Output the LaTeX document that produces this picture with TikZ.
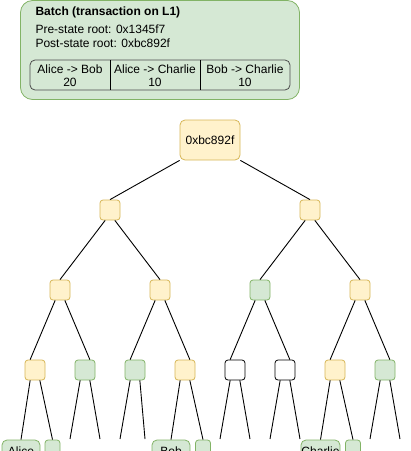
\documentclass[tikz,border=0pt]{standalone}
\usepackage{fontspec}
\setmainfont{Liberation Sans}
\definecolor{yfill}{HTML}{FFF2CC}
\definecolor{ystroke}{HTML}{D6B656}
\definecolor{gfill}{HTML}{D5E8D4}
\definecolor{gstroke}{HTML}{82B366}
\begin{document}
\begin{tikzpicture}[x=1pt,y=-1pt,
  every node/.style={font=\fontsize{12}{13.5}\selectfont},
  yel/.style={draw=ystroke, fill=yfill, rounded corners=3pt, minimum width=20pt, minimum height=20pt, inner sep=0pt, line width=0.8pt},
  grn/.style={yel, draw=gstroke, fill=gfill},
  wht/.style={yel, draw=black, fill=white},
  leafbox/.style={grn, rounded corners=5pt, minimum width=38pt, minimum height=22pt},
  leafsq/.style={grn, minimum width=15pt, minimum height=22pt},
  link/.style={draw=black, line width=0.9pt}]
\clip (0,0) rectangle (411,451);
% batch box
\node[draw=gstroke, fill=gfill, rounded corners=12pt, line width=0.8pt, minimum width=279pt, minimum height=99pt, inner sep=0pt] (batch) at (160,50) {};
\node[anchor=west, font=\fontsize{12}{13.5}\selectfont\bfseries] (title) at (32,12) {Batch (transaction on L1)};
\node[anchor=west] (pre) at (32,29) {Pre-state root: 0x1345f7};
\node[anchor=west] (post) at (32,43) {Post-state root: 0xbc892f};
\node[draw=black!70, rounded corners=5pt, line width=0.8pt, minimum width=260pt, minimum height=30pt, inner sep=0pt] (table) at (160,75) {};
\coordinate (d1t) at (110,60); \coordinate (d1b) at (110,90);
\coordinate (d2t) at (200,60); \coordinate (d2b) at (200,90);
\draw[line width=0.8pt] (d1t) -- (d1b);
\draw[line width=0.8pt] (d2t) -- (d2b);
\node[align=center, inner sep=0pt] (c1) at (70,75.5) {Alice -> Bob\\20};
\node[align=center, inner sep=0pt] (c2) at (155,75.5) {Alice -> Charlie\\10};
\node[align=center, inner sep=0pt] (c3) at (245,75.5) {Bob -> Charlie\\10};
% tree
\node[yel, minimum width=60pt, minimum height=40pt, rounded corners=5pt] (root) at (210,140) {0xbc892f};
\node[yel] (a) at (110,210) {};
\node[yel] (b) at (310,210) {};
\node[yel] (aa) at (60,290) {};
\node[yel] (ab) at (160,290) {};
\node[grn] (ba) at (260,290) {};
\node[yel] (bb) at (360,290) {};
\node[yel] (l1) at (35,370) {};
\node[grn] (l2) at (85,370) {};
\node[grn] (l3) at (135,370) {};
\node[yel] (l4) at (185,370) {};
\node[wht] (l5) at (235,370) {};
\node[wht] (l6) at (285,370) {};
\node[yel] (l7) at (335,370) {};
\node[grn] (l8) at (385,370) {};
\node[leafbox] (alice) at (21,451) {Alice};
\node[leafsq] (sa) at (52.5,451) {};
\node[leafbox] (bob) at (171,451) {Bob};
\node[leafsq] (sb) at (203,451) {};
\node[leafbox, minimum width=39pt] (charlie) at (320.5,451) {Charlie};
\node[leafsq] (sc) at (353,451) {};
\coordinate (e2a) at (70,439); \coordinate (e2b) at (100,439);
\coordinate (e3a) at (120,439); \coordinate (e3b) at (145,439);
\coordinate (e5a) at (220,439); \coordinate (e5b) at (250,439);
\coordinate (e6a) at (270,439); \coordinate (e6b) at (300,439);
\coordinate (e8a) at (370,439); \coordinate (e8b) at (400,439);
% edges
\draw[link] (root.south west) -- (a.north);
\draw[link] (root.south east) -- (b.north);
\draw[link] (a.-115) -- (aa.north);
\draw[link] (a.-65) -- (ab.north);
\draw[link] (b.-115) -- (ba.north);
\draw[link] (b.-65) -- (bb.north);
\draw[link] (aa.-115) -- (l1.115);
\draw[link] (aa.-65) -- (l2.65);
\draw[link] (ab.-115) -- (l3.115);
\draw[link] (ab.-65) -- (l4.65);
\draw[link] (ba.-115) -- (l5.115);
\draw[link] (ba.-65) -- (l6.65);
\draw[link] (bb.-115) -- (l7.115);
\draw[link] (bb.-65) -- (l8.65);
\draw[link] (l1.-115) -- (alice.north);
\draw[link] (l1.-65) -- (sa.north);
\draw[link] (l2.-115) -- (e2a);
\draw[link] (l2.-65) -- (e2b);
\draw[link] (l3.-115) -- (e3a);
\draw[link] (l3.-65) -- (e3b);
\draw[link] (l4.-115) -- (bob.north);
\draw[link] (l4.-65) -- (sb.north);
\draw[link] (l5.-115) -- (e5a);
\draw[link] (l5.-65) -- (e5b);
\draw[link] (l6.-115) -- (e6a);
\draw[link] (l6.-65) -- (e6b);
\draw[link] (l7.-115) -- (charlie.north);
\draw[link] (l7.-65) -- (sc.north);
\draw[link] (l8.-115) -- (e8a);
\draw[link] (l8.-65) -- (e8b);
\end{tikzpicture}
\end{document}
